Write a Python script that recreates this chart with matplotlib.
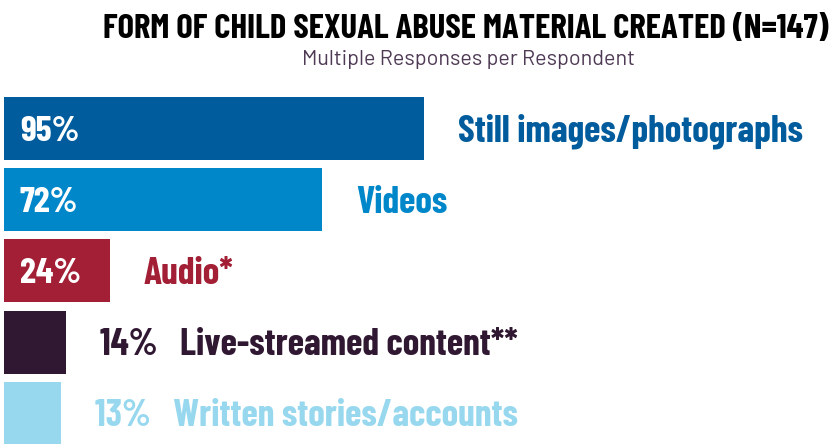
import matplotlib
matplotlib.use("Agg")
import matplotlib.pyplot as plt

categories = [
    "Still images/photographs",
    "Videos",
    "Audio*",
    "Live-streamed content**",
    "Written stories/accounts",
]
values = [95, 72, 24, 14, 13]
colors = ["#005c9c", "#0087ca", "#a21f35", "#301832", "#97d8ef"]

title = "FORM OF CHILD SEXUAL ABUSE MATERIAL CREATED (N=147)"
subtitle = "Multiple Responses per Respondent"

cond = ["Barlow Condensed", "DejaVu Sans"]
plain = ["Barlow", "DejaVu Sans"]

fig = plt.figure(figsize=(8.36, 4.44), dpi=100)
ax = fig.add_axes([4 / 836, 0, 1 - 4 / 836, 1])
ax.barh(range(len(values)), values, height=0.885, color=colors)
ax.set_xlim(0, 832 / 4.42)
ax.set_ylim(4.431, -1.805)
ax.axis("off")

for i, (cat, val, col) in enumerate(zip(categories, values, colors)):
    if val >= 20:
        ax.annotate(f"{val}%", (0, i), xytext=(16, -3), textcoords="offset pixels",
                    ha="left", va="center", color="white", fontsize=26,
                    fontweight="bold", family=cond)
        label = cat
    else:
        label = f"{val}%   {cat}"
    ax.annotate(label, (val, i), xytext=(34, -3), textcoords="offset pixels",
                ha="left", va="center", color=col, fontsize=27,
                fontweight="bold", family=cond)

fig.text(466 / 836, 1 - 38 / 444, title, ha="center", va="baseline",
         fontsize=25, fontweight="bold", family=cond, color="black")
fig.text(468 / 836, 1 - 65 / 444, subtitle, ha="center", va="baseline",
         fontsize=15.5, family=plain, color="#4f3a55")

fig.savefig("out.png", dpi=100)
